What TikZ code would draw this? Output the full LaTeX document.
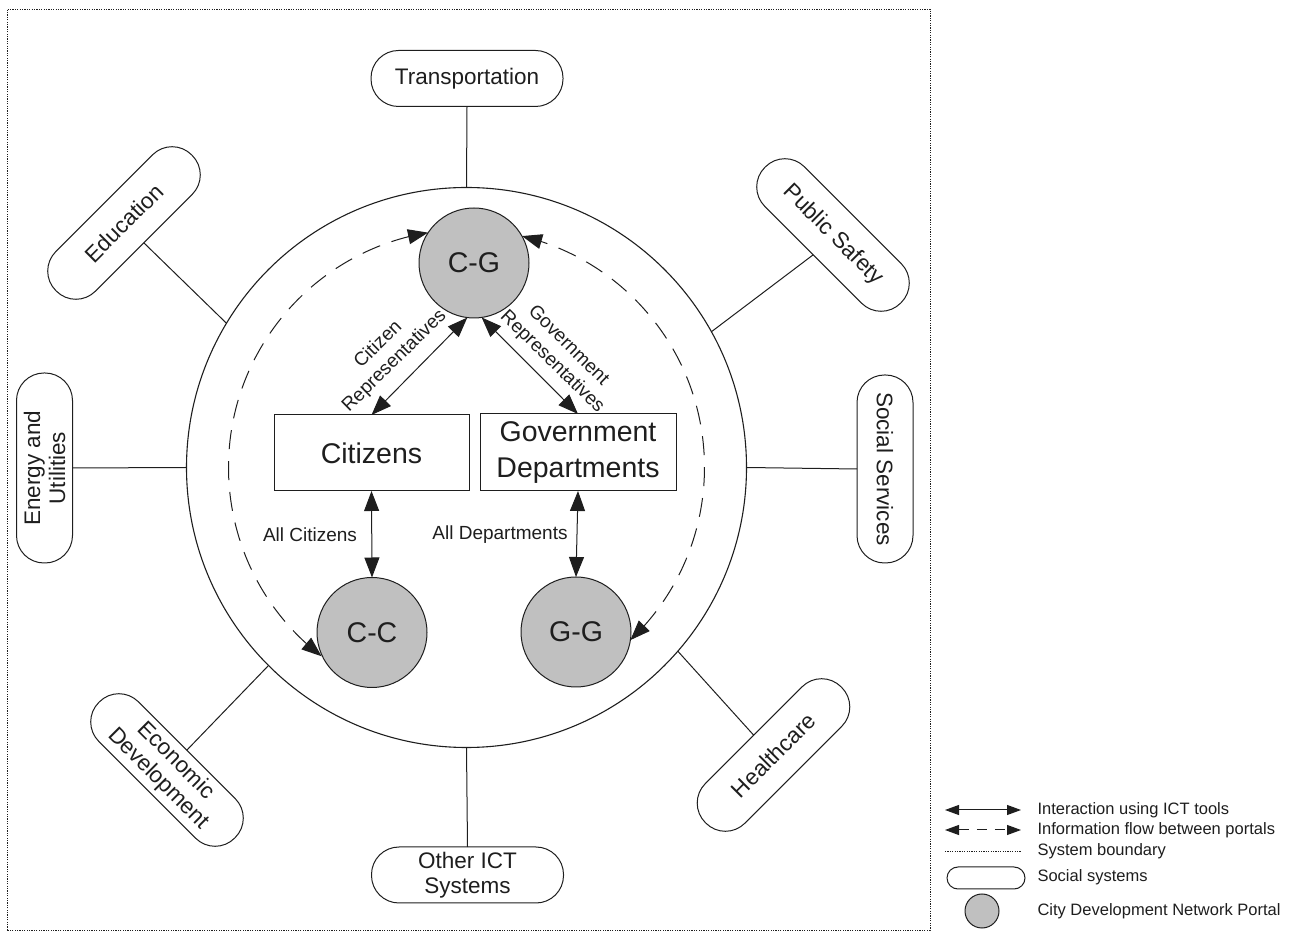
\documentclass[tikz,border=0pt]{standalone}
\usepackage{fontspec}
\setmainfont{Liberation Sans}
\usetikzlibrary{arrows.meta,bending,calc}
\definecolor{portalgray}{RGB}{192,192,192}
\definecolor{ink}{RGB}{30,30,30}
\newcommand\fBig{\fontsize{28.5}{36}\selectfont}
\newcommand\fMid{\fontsize{22.5}{25}\selectfont}
\newcommand\fLab{\fontsize{19}{23}\selectfont}
\newcommand\fLeg{\fontsize{16.5}{19}\selectfont}

\begin{document}
\begin{tikzpicture}[x=1pt,y=1pt,line width=1pt,color=ink,
  social/.style={draw,rounded corners=27.5pt,minimum width=192pt,minimum height=56pt,
    inner sep=0pt,outer sep=0pt,align=center,font=\fMid},
  portal/.style={circle,draw,fill=portalgray,minimum size=110pt,inner sep=0pt,
    outer sep=0pt,font=\fBig},
  actor/.style={draw,fill=white,minimum width=195pt,minimum height=76pt,inner sep=0pt,
    outer sep=0pt,align=center,font=\fBig},
  lab/.style={font=\fLab,align=center,inner sep=1pt},
  ict/.style={{Triangle[length=20pt,width=15pt]}-{Triangle[length=20pt,width=15pt]}},
  flow/.style={ict,dash pattern=on 19pt off 12pt},
  ictleg/.style={{Triangle[length=14pt,width=10pt]}-{Triangle[length=14pt,width=10pt]}},
  flowleg/.style={ictleg,dash pattern=on 10pt off 8pt},
  boundary/.style={line width=0.8pt,dash pattern=on 1.2pt off 1.2pt},
  legtext/.style={font=\fLeg,anchor=west,inner sep=0pt}]

\useasboundingbox (0,0) rectangle (1299,932);

% system boundary
\draw[boundary] (7,2) rectangle (930,923);

% the city ring
\coordinate (o) at (466.5,464.5);
\node[circle,draw,minimum size=560pt,inner sep=0pt,outer sep=0pt,line width=1.1pt] (ring) at (o) {};

% social systems around the ring
\node[social] (trans) at (467,853.5) {Transportation};
\node[social] (oict) at (467.5,57) {Other ICT\\Systems};
\node[social,minimum width=190pt,rotate=90] (en) at (44.5,464) {Energy and\\Utilities};
\node[social,minimum width=188pt,rotate=-90] (so) at (885,463) {Social Services};
\node[social,rotate=45] (ed) at (124,709) {Education};
\node[social,rotate=-45] (ps) at (833,697) {Public Safety};
\node[social,rotate=-45] (econ) at (167,162) {Economic\\Development};
\node[social,rotate=45] (hc) at (773.5,177) {Healthcare};

\draw (trans.south) -- (ring.90);
\draw (oict.north) -- (ring.270);
\draw (en.south) -- (ring.180);
\draw (so.south) -- (ring.0);
\draw (ed.south) -- (ring.149);
\draw (ps.south) -- (ring.29);
\draw (econ.north) -- (ring.225);
\draw (hc.north) -- (ring.319);

% portals and actors
\node[portal] (cg) at (474,669) {C-G};
\node[portal] (cc) at (372,299.5) {C-C};
\node[portal] (gg) at (576,300) {G-G};
\node[actor] (cit) at (371.5,479) {Citizens};
\node[actor,minimum width=196pt,minimum height=77pt] (gov) at (578,479.5) {Government\\Departments};

% interaction using ICT tools
\draw[ict] (cit.north) -- (cg.263);
\draw[ict] (gov.north) -- (cg.278);
\draw[ict] (cit.south) -- (cc.north);
\draw[ict] (gov.south) -- (gg.north);

\node[lab,rotate=44.5] (crep) at (386.5,579) {Citizen\\Representatives};
\node[lab,rotate=-44.5] (grep) at (560,578) {Government\\Representatives};
\node[lab] (allc) at (310,397) {All Citizens};
\node[lab] (alld) at (500,397) {All Departments};

% information flow between portals
\draw[flow] ($(o)+(232.5:238)$) arc[start angle=232.5,end angle=99.3,radius=238];
\draw[flow] ($(o)+(-46.5:238)$) arc[start angle=-46.5,end angle=76.5,radius=238];

% legend
\coordinate (l1a) at (945,122); \coordinate (l1b) at (1021,122);
\coordinate (l2a) at (945,102); \coordinate (l2b) at (1021,102);
\coordinate (l3a) at (945,81);  \coordinate (l3b) at (1021,81);
\draw[ictleg] (l1a) -- (l1b);
\draw[flowleg] (l2a) -- (l2b);
\draw[boundary] (l3a) -- (l3b);
\node[draw,rounded corners=11pt,minimum width=78pt,minimum height=22pt,inner sep=0pt] (lsoc) at (986,54) {};
\node[circle,draw,fill=portalgray,minimum size=34pt,inner sep=0pt] (lport) at (982,21) {};
\node[legtext] (t1) at (1037,122) {Interaction using ICT tools};
\node[legtext] (t2) at (1037,102) {Information flow between portals};
\node[legtext] (t3) at (1037,81) {System boundary};
\node[legtext] (t4) at (1037,55) {Social systems};
\node[legtext] (t5) at (1037,21) {City Development Network Portal};
\end{tikzpicture}
\end{document}
